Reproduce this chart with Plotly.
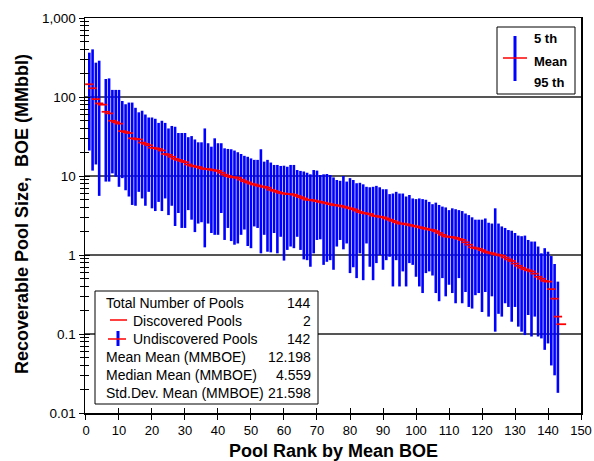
import plotly.graph_objects as go

# ---------------- data ----------------
undiscovered_rank = [r for r in range(1, 144) if r != 5]

p95 = [364, 401, 272, 288,
       169, 172, 123, 123, 123,
       89, 81, 85, 85, 73, 64, 67, 60, 55, 55,
       53, 47, 50, 47, 40, 43, 42, 35, 35, 35,
       31, 32, 29, 26.7, 26.7, 40, 26, 23.5, 30, 26,
       26, 22.4, 22, 21.8, 21, 20, 19, 18, 17.5, 16.7,
       16, 16, 21.8, 15.2, 16, 14.8, 13.8, 13.8, 13.4, 13.5,
       13.1, 13.8, 13.8, 11.9, 11.6, 11.4, 11, 10.5, 11.9, 11.7,
       10.3, 10.5, 10.6, 10.3, 9.6, 8.9, 8.7, 10, 8.5, 9.4,
       8.9, 8.1, 8.2, 7.85, 7.3, 7.2, 7.3, 7.5, 7.2, 6.8,
       6.8, 5.9, 6.0, 6.3, 6.0, 6.0, 5.5, 5.75, 5.2, 5.1,
       5.2, 5.1, 5.0, 4.7, 4.4, 4.6, 4.3, 4.1, 4.0, 3.7,
       3.9, 3.8, 3.7, 3.6, 3.35, 3.2, 3.0, 2.8, 2.8, 2.8,
       2.9, 2.56, 2.5, 3.9, 2.5, 2.3, 2.2, 2.07, 2.03, 1.9,
       1.76, 1.73, 1.76, 1.55, 1.48, 1.48, 1.28, 1.05, 1.22, 1.1,
       0.97, 0.77, 0.46]

p05 = [21, 11.7, 14, 5.6,
       8.5, 8.5, 10.8, 9.8, 7.3,
       9.4, 6.6, 5.5, 4.3, 4.2, 6.3, 5.2, 4.2, 6.3, 3.9,
       3.6, 4.7, 3.6, 5.2, 3.2, 4.2, 2.33, 3.4, 2.2, 2.2,
       3.7, 2.8, 1.95, 2.5, 2.6, 1.25, 2.5, 1.9, 1.8, 1.8,
       3.4, 1.55, 2.2, 1.5, 1.35, 1.4, 1.8, 2.1, 1.3, 1.22,
       2.3, 2.2, 1.05, 1.8, 1.1, 1.08, 1.9, 1.05, 1.7, 0.85,
       1.16, 1.28, 1.22, 1.7, 1.16, 0.88, 0.86, 0.71, 1.05, 1.55,
       1.58, 0.75, 0.82, 0.86, 0.65, 1.28, 1.55, 1.18, 1.4, 0.59,
       0.70, 0.51, 1.05, 0.48, 1.4, 0.71, 0.48, 0.79, 1.0, 0.65,
       0.86, 0.95, 0.40, 0.86, 0.40, 0.62, 0.40, 0.79, 0.75, 0.53,
       0.40, 0.33, 0.59, 0.62, 0.55, 0.33, 0.26, 0.51, 0.30, 0.42,
       0.33, 0.245, 0.51, 0.245, 0.34, 0.22, 0.21, 0.31, 0.33, 0.19,
       0.34, 0.166, 0.30, 0.107, 0.18, 0.166, 0.245, 0.22, 0.143, 0.22,
       0.124, 0.107, 0.097, 0.174, 0.093, 0.166, 0.093, 0.088, 0.063, 0.076,
       0.04, 0.03, 0.018]

mean_undiscovered = [145, 129, 94, 83,
       65, 62, 50, 48, 46,
       37, 36, 35, 30, 29.5, 29, 26.5, 25.5, 24.5, 22.8,
       22.5, 22, 21, 19, 18.5, 17.5, 16.5, 16, 15.5, 15,
       14, 13.5, 13.2, 13, 12.5, 12.3, 12.2, 12, 11.8, 11.6,
       11, 10.4, 10, 9.7, 9.6, 9.5, 9.0, 8.6, 8.3, 8.0,
       7.8, 7.6, 7.4, 7.3, 7.1, 6.7, 6.5, 6.3, 6.1, 6.0,
       5.9, 5.9, 5.8, 5.6, 5.4, 5.2, 5.0, 5.0, 4.9, 4.8,
       4.7, 4.6, 4.5, 4.4, 4.3, 4.25, 4.2, 4.1, 4.0, 3.9,
       3.8, 3.65, 3.5, 3.4, 3.35, 3.3, 3.15, 3.1, 3.05, 3.0,
       2.9, 2.8, 2.7, 2.6, 2.5, 2.5, 2.45, 2.4, 2.35, 2.3,
       2.25, 2.2, 2.15, 2.1, 2.07, 2.0, 1.9, 1.8, 1.72, 1.7,
       1.68, 1.65, 1.6, 1.55, 1.45, 1.35, 1.25, 1.22, 1.2, 1.15,
       1.1, 1.07, 1.05, 1.02, 1.0, 0.98, 0.93, 0.88, 0.84, 0.78,
       0.73, 0.69, 0.66, 0.64, 0.62, 0.58, 0.53, 0.50, 0.47, 0.46,
       0.37, 0.28, 0.166]

discovered_rank = [5, 144]
discovered_mean = [80, 0.133]

x_ticks = [0, 10, 20, 30, 40, 50, 60, 70, 80, 90, 100, 110, 120, 130, 140, 150]
y_major = [0.01, 0.1, 1, 10, 100, 1000]
y_major_text = ["0.01", "0.1", "1", "10", "100", "1,000"]
y_minor = [m * 10 ** e for e in range(-2, 3) for m in range(2, 10)]

stats_labels = ["Total Number of Pools", "Discovered Pools", "Undiscovered Pools",
                "Mean Mean (MMBOE)", "Median Mean (MMBOE)", "Std.Dev. Mean (MMBOE)"]
stats_values = ["144", "2", "142", "12.198", "4.559", "21.598"]
range_labels = ["5 th", "Mean", "95 th"]

FONT = "Liberation Sans, Arial, sans-serif"
BLUE = "#0000FF"
RED = "#FF0000"

# ---------------- figure ----------------
fig = go.Figure()

bx, by = [], []
for r, lo, hi in zip(undiscovered_rank, p05, p95):
    bx += [r, r, None]
    by += [lo, hi, None]
fig.add_trace(go.Scatter(x=bx, y=by, mode="lines",
                         line=dict(color=BLUE, width=2.6),
                         hoverinfo="skip", showlegend=False))
fig.add_trace(go.Scatter(x=undiscovered_rank, y=mean_undiscovered, mode="markers",
                         marker=dict(symbol="line-ew", size=6,
                                     line=dict(color=RED, width=1.8)),
                         showlegend=False))
fig.add_trace(go.Scatter(x=discovered_rank, y=discovered_mean, mode="markers",
                         marker=dict(symbol="line-ew", size=7,
                                     line=dict(color=RED, width=1.8)),
                         showlegend=False))
# dummy trace to activate overlay axes (inside ticks)
fig.add_trace(go.Scatter(x=[None], y=[None], xaxis="x2", yaxis="y2",
                         showlegend=False, hoverinfo="skip"))

L, R, T, B = 85, 13, 18, 48
W, H = 594, 461
pw, ph = W - L - R, H - T - B


def px(xp):
    return (xp - L) / pw


def py(yp):
    return (H - B - yp) / ph


fig.update_layout(
    width=W, height=H,
    margin=dict(l=L, r=R, t=T, b=B, autoexpand=False),
    paper_bgcolor="white", plot_bgcolor="white",
    font=dict(family=FONT, size=13, color="black"),
    xaxis=dict(range=[-0.3, 150], tickvals=x_ticks, ticks="outside", ticklen=5,
               tickwidth=1, tickcolor="black", showgrid=False, zeroline=False,
               showline=True, linecolor="black", linewidth=1.5, mirror=True,
               tickfont=dict(size=13), automargin=False),
    xaxis2=dict(range=[-0.3, 150], overlaying="x", tickvals=x_ticks, ticks="inside",
                ticklen=5, tickcolor="black", showticklabels=False, showgrid=False,
                zeroline=False, showline=False, automargin=False),
    yaxis=dict(type="log", range=[-2, 3], tickvals=y_major, ticktext=y_major_text,
               ticks="outside", ticklen=5, tickcolor="black",
               showgrid=True, gridcolor="#555555", gridwidth=1.3, zeroline=False,
               showline=True, linecolor="black", linewidth=1.5, mirror=True,
               tickfont=dict(size=13.5), automargin=False,
               minor=dict(tickvals=y_minor, ticks="outside", ticklen=4,
                          tickcolor="black", showgrid=False)),
    yaxis2=dict(type="log", range=[-2, 3], overlaying="y", tickvals=y_major,
                ticks="inside", ticklen=5, tickcolor="black", showticklabels=False,
                showgrid=False, zeroline=False, showline=False, automargin=False,
                minor=dict(tickvals=y_minor, ticks="inside", ticklen=4,
                           tickcolor="black", showgrid=False)),
)

shapes = []
annotations = []

# axis titles
annotations.append(dict(xref="paper", yref="paper", x=px(333), y=py(451),
                        text="<b>Pool Rank by Mean BOE</b>", showarrow=False,
                        xanchor="center", yanchor="middle", font=dict(size=18)))
annotations.append(dict(xref="paper", yref="paper", x=px(22), y=py(214),
                        text="<b>Recoverable Pool Size,  BOE (MMbbl)</b>", showarrow=False,
                        textangle=-90, xanchor="center", yanchor="middle",
                        font=dict(size=18)))

# top-right range legend
shapes.append(dict(type="rect", xref="paper", yref="paper", x0=px(497), x1=px(575),
                   y0=py(94), y1=py(27), line=dict(color="black", width=1),
                   fillcolor="white", layer="above"))
shapes.append(dict(type="line", xref="paper", yref="paper", x0=px(515), x1=px(515),
                   y0=py(81), y1=py(36), line=dict(color=BLUE, width=3), layer="above"))
shapes.append(dict(type="line", xref="paper", yref="paper", x0=px(503), x1=px(527),
                   y0=py(58), y1=py(58), line=dict(color=RED, width=1.5), layer="above"))
for lbl, yy in zip(range_labels, [39, 61, 82]):
    annotations.append(dict(xref="paper", yref="paper", x=px(532), y=py(yy),
                            text="<b>" + lbl + "</b>", showarrow=False,
                            xanchor="left", yanchor="middle", font=dict(size=13)))

# bottom-left statistics box
BOX_R = 318
shapes.append(dict(type="rect", xref="paper", yref="paper", x0=px(95), x1=px(BOX_R),
                   y0=py(404), y1=py(291), line=dict(color="black", width=1),
                   fillcolor="white", layer="above"))
row_y = [303, 321, 339, 357, 375, 393]
for i, (lbl, val) in enumerate(zip(stats_labels, stats_values)):
    xl = 131 if i in (1, 2) else 104
    annotations.append(dict(xref="paper", yref="paper", x=px(xl), y=py(row_y[i]),
                            text=lbl, showarrow=False, xanchor="left", yanchor="middle",
                            font=dict(size=14)))
    annotations.append(dict(xref="paper", yref="paper", x=px(BOX_R - 5), y=py(row_y[i]),
                            text=val, showarrow=False, xanchor="right", yanchor="middle",
                            font=dict(size=14)))
# legend glyphs in stats box
shapes.append(dict(type="line", xref="paper", yref="paper", x0=px(110), x1=px(127),
                   y0=py(320), y1=py(320), line=dict(color=RED, width=1.5), layer="above"))
shapes.append(dict(type="line", xref="paper", yref="paper", x0=px(118), x1=px(118),
                   y0=py(346), y1=py(331), line=dict(color=BLUE, width=3), layer="above"))
shapes.append(dict(type="line", xref="paper", yref="paper", x0=px(108), x1=px(126),
                   y0=py(339), y1=py(339), line=dict(color=RED, width=1.5), layer="above"))

fig.update_layout(shapes=shapes, annotations=annotations)
fig.write_html("out.html",
               config={"displayModeBar": False, "staticPlot": True},
               post_script="document.body.style.margin='0px';"
                           "document.body.style.padding='0px';")
